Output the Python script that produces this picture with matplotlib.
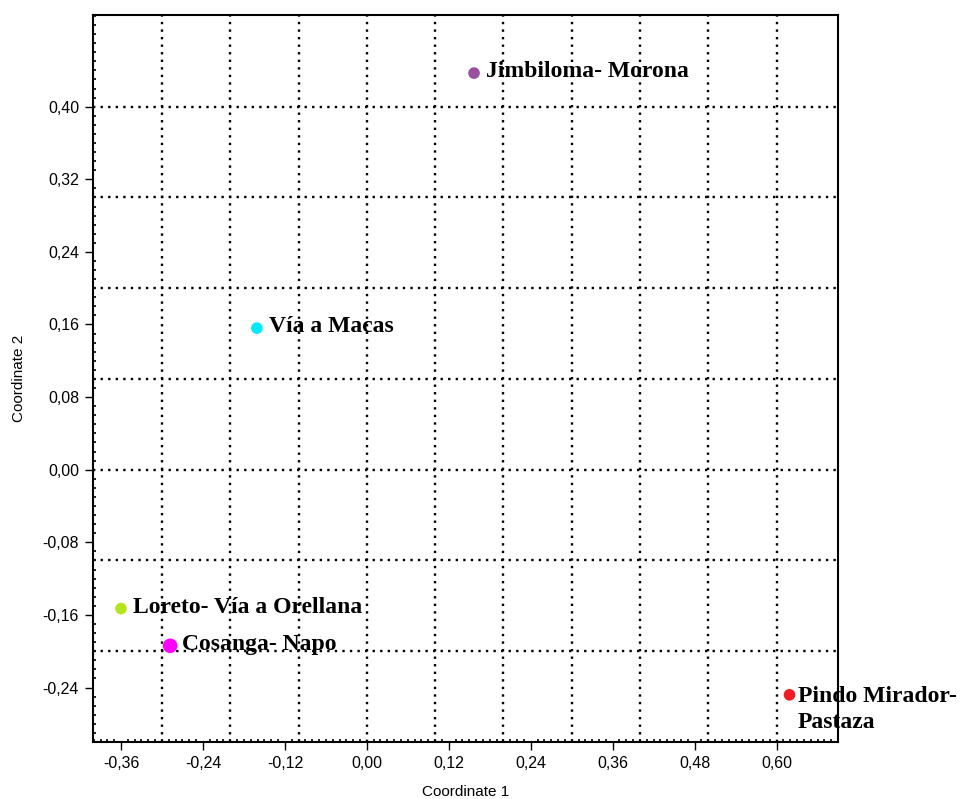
import matplotlib
matplotlib.use("Agg")
import matplotlib.pyplot as plt
from matplotlib.ticker import FixedLocator, FuncFormatter, MultipleLocator
import numpy as np

sites = ["Jimbiloma- Morona", "Vía a Macas", "Loreto- Vía a Orellana",
         "Cosanga- Napo", "Pindo Mirador-\nPastaza"]
coord1 = [0.157, -0.161, -0.360, -0.288, 0.619]
coord2 = [0.437, 0.156, -0.153, -0.194, -0.248]
colors = ["#9b4f9f", "#00e8ff", "#b5e61d", "#ff00ff", "#ee1c24"]
sizes = [70, 70, 70, 110, 70]

xticks = [-0.36, -0.24, -0.12, 0.00, 0.12, 0.24, 0.36, 0.48, 0.60]
yticks = [-0.24, -0.16, -0.08, 0.00, 0.08, 0.16, 0.24, 0.32, 0.40]
xgrid = [-0.3, -0.2, -0.1, 0.0, 0.1, 0.2, 0.3, 0.4, 0.5, 0.6]
ygrid = [-0.2, -0.1, 0.0, 0.1, 0.2, 0.3, 0.4]

fig = plt.figure(figsize=(9.6, 7.99), dpi=100)
ax = fig.add_axes([93/960, 57/799, 745/960, 727/799])
ax.set_xlim(-0.401, 0.69)
ax.set_ylim(-0.30, 0.501)

for gx in xgrid:
    ax.axvline(gx, color="black", lw=1.7, ls=(0, (1, 2.2)), zorder=1)
for gy in ygrid:
    ax.axhline(gy, color="black", lw=1.7, ls=(0, (1, 2.2)), zorder=1)

for x, y, c, s, name in zip(coord1, coord2, colors, sizes, sites):
    ax.scatter([x], [y], s=s, color=c, zorder=3, edgecolors="none")
    if "\n" in name:
        ax.annotate(name, (x, y), xytext=(6, 6), textcoords="offset points",
                    ha="left", va="top", fontsize=17, fontweight="bold",
                    family="Liberation Serif", linespacing=1.3, zorder=4)
    else:
        ax.annotate(name, (x, y), xytext=(8.5, 1), textcoords="offset points",
                    ha="left", va="center", fontsize=17, fontweight="bold",
                    family="Liberation Serif", zorder=4)

fmt = FuncFormatter(lambda v, p: f"{v:.2f}".replace(".", ","))
ax.xaxis.set_major_locator(FixedLocator(xticks))
ax.yaxis.set_major_locator(FixedLocator(yticks))
ax.xaxis.set_major_formatter(fmt)
ax.yaxis.set_major_formatter(fmt)
ax.xaxis.set_minor_locator(MultipleLocator(0.01))
ax.yaxis.set_minor_locator(MultipleLocator(0.01))
ax.tick_params(which="major", direction="out", length=6, width=1, labelsize=11.5, pad=4)
ax.tick_params(which="minor", direction="in", length=2, width=1.2)
ax.tick_params(top=False, right=False, which="both")
for lab in ax.get_xticklabels() + ax.get_yticklabels():
    lab.set_family("Liberation Sans")
for sp in ax.spines.values():
    sp.set_linewidth(1.5)

ax.set_xlabel("Coordinate 1", fontsize=11, family="Liberation Sans", labelpad=10)
ax.set_ylabel("Coordinate 2", fontsize=11, family="Liberation Sans", labelpad=12)

fig.savefig("out.png", dpi=100)
